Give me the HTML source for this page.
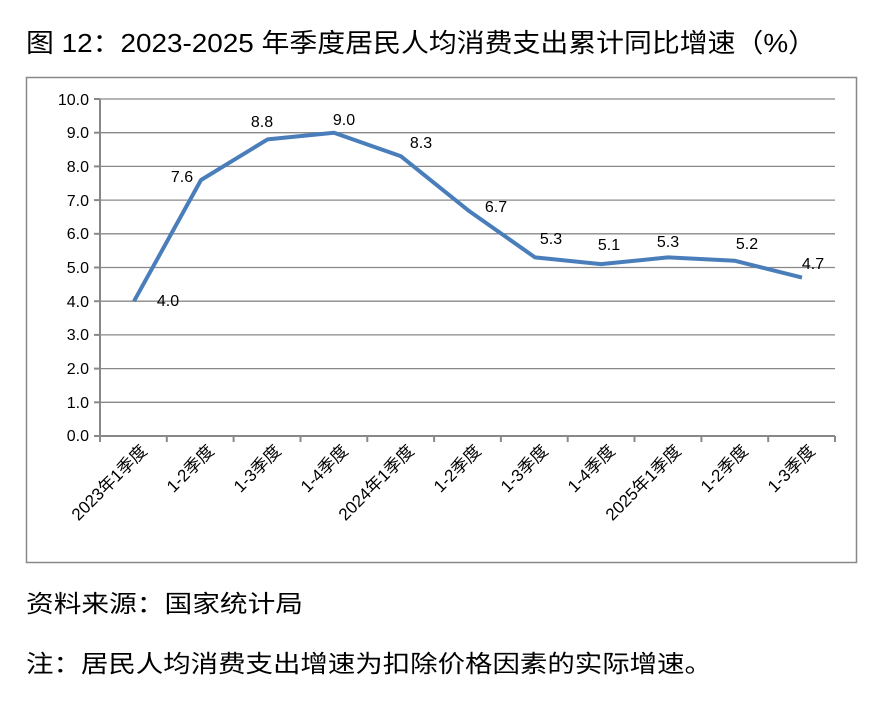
<!DOCTYPE html>
<html><head><meta charset="utf-8"><style>
body{margin:0;background:#fff;width:891px;height:696px;overflow:hidden;font-family:"Liberation Sans","Noto Sans CJK SC",sans-serif;}
</style></head><body>
<svg width="891" height="696" xmlns="http://www.w3.org/2000/svg" font-family="Liberation Sans, Noto Sans CJK SC, sans-serif">
<text x="26" y="52" font-size="26" fill="#000" textLength="790" lengthAdjust="spacingAndGlyphs">图 12：2023-2025 年季度居民人均消费支出累计同比增速（%）</text>
<rect x="26.5" y="77.5" width="830" height="485" fill="none" stroke="#888" stroke-width="1.5"/>
<g stroke="#888" stroke-width="1.3">
<line x1="100" y1="99" x2="835" y2="99"/><line x1="100" y1="132.7" x2="835" y2="132.7"/>
<line x1="100" y1="166.4" x2="835" y2="166.4"/><line x1="100" y1="200.1" x2="835" y2="200.1"/>
<line x1="100" y1="233.8" x2="835" y2="233.8"/><line x1="100" y1="267.5" x2="835" y2="267.5"/>
<line x1="100" y1="301.2" x2="835" y2="301.2"/><line x1="100" y1="334.9" x2="835" y2="334.9"/>
<line x1="100" y1="368.6" x2="835" y2="368.6"/><line x1="100" y1="402.3" x2="835" y2="402.3"/>
</g>
<g stroke="#888" stroke-width="2">
<line x1="100" y1="99" x2="100" y2="436"/><line x1="94" y1="436" x2="835" y2="436"/>
<line x1="94" y1="99" x2="100" y2="99"/><line x1="94" y1="132.7" x2="100" y2="132.7"/><line x1="94" y1="166.4" x2="100" y2="166.4"/><line x1="94" y1="200.1" x2="100" y2="200.1"/><line x1="94" y1="233.8" x2="100" y2="233.8"/><line x1="94" y1="267.5" x2="100" y2="267.5"/><line x1="94" y1="301.2" x2="100" y2="301.2"/><line x1="94" y1="334.9" x2="100" y2="334.9"/><line x1="94" y1="368.6" x2="100" y2="368.6"/><line x1="94" y1="402.3" x2="100" y2="402.3"/>
<line x1="100" y1="436" x2="100" y2="442"/><line x1="166.8" y1="436" x2="166.8" y2="442"/><line x1="233.6" y1="436" x2="233.6" y2="442"/><line x1="300.5" y1="436" x2="300.5" y2="442"/><line x1="367.3" y1="436" x2="367.3" y2="442"/><line x1="434.1" y1="436" x2="434.1" y2="442"/><line x1="500.9" y1="436" x2="500.9" y2="442"/><line x1="567.7" y1="436" x2="567.7" y2="442"/><line x1="634.5" y1="436" x2="634.5" y2="442"/><line x1="701.4" y1="436" x2="701.4" y2="442"/><line x1="768.2" y1="436" x2="768.2" y2="442"/><line x1="835" y1="436" x2="835" y2="442"/>
</g>
<g font-size="16" text-anchor="end" fill="#000">
<text x="89" y="105">10.0</text><text x="89" y="138">9.0</text><text x="89" y="172">8.0</text><text x="89" y="206">7.0</text><text x="89" y="239">6.0</text><text x="89" y="273">5.0</text><text x="89" y="307">4.0</text><text x="89" y="340">3.0</text><text x="89" y="374">2.0</text><text x="89" y="408">1.0</text><text x="89" y="441">0.0</text>
</g>
<polyline fill="none" stroke="#4a7ebb" stroke-width="4" stroke-linejoin="round" points="134,301.2 201,180 267.5,139.4 334,132.7 401,156.3 468,210.2 535,257.4 601,264.1 668,257.4 735,260.8 802,277.6"/>
<g font-size="16" fill="#000" text-anchor="middle">
<text x="168" y="306">4.0</text><text x="182" y="182">7.6</text><text x="262" y="127">8.8</text><text x="344" y="125">9.0</text><text x="421" y="148">8.3</text><text x="496" y="212">6.7</text><text x="551" y="244">5.3</text><text x="609" y="250">5.1</text><text x="668" y="247">5.3</text><text x="747" y="249">5.2</text><text x="813" y="269">4.7</text>
</g>
<g font-size="17" fill="#000" text-anchor="end">
<text transform="translate(148,452) rotate(-45)">2023年1季度</text>
<text transform="translate(215,452) rotate(-45)">1-2季度</text>
<text transform="translate(282,452) rotate(-45)">1-3季度</text>
<text transform="translate(349,452) rotate(-45)">1-4季度</text>
<text transform="translate(415,452) rotate(-45)">2024年1季度</text>
<text transform="translate(482,452) rotate(-45)">1-2季度</text>
<text transform="translate(549,452) rotate(-45)">1-3季度</text>
<text transform="translate(616,452) rotate(-45)">1-4季度</text>
<text transform="translate(682,452) rotate(-45)">2025年1季度</text>
<text transform="translate(749,452) rotate(-45)">1-2季度</text>
<text transform="translate(816,452) rotate(-45)">1-3季度</text>
</g>
<text x="26" y="612" font-size="24" fill="#000" textLength="277" lengthAdjust="spacingAndGlyphs">资料来源：国家统计局</text>
<text x="26" y="672" font-size="24" fill="#000" textLength="686" lengthAdjust="spacingAndGlyphs">注：居民人均消费支出增速为扣除价格因素的实际增速。</text>
</svg>
</body></html>
